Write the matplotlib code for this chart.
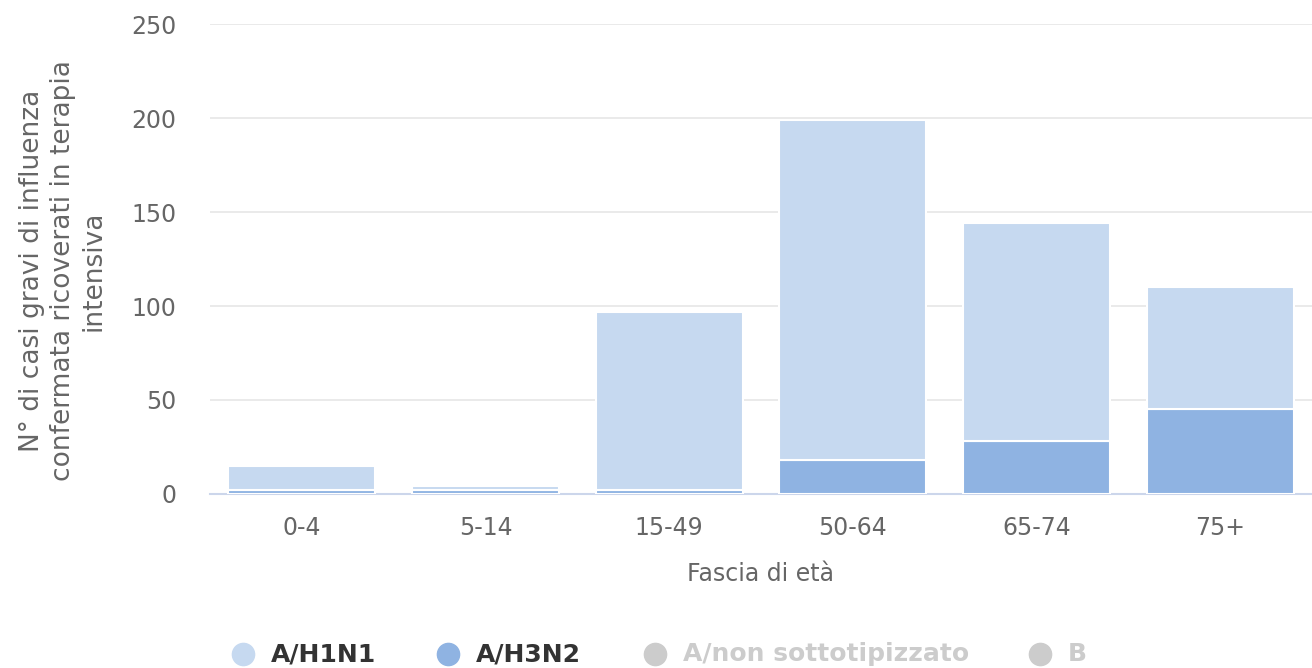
import matplotlib.pyplot as plt
import numpy as np

categories = ["0-4", "5-14", "15-49", "50-64", "65-74", "75+"]
h3n2 = [2, 2, 2, 18, 28, 45]
h1n1 = [13, 2, 95, 181, 116, 65]

c_h1n1 = "#c6d9f0"
c_h3n2 = "#8fb3e2"
text_col = "#666666"

W, H = 1312, 668
fig = plt.figure(figsize=(W / 100, H / 100), dpi=100)
ax = fig.add_axes([0.16, 0.2605, 0.84, 0.7035])

x = np.arange(len(categories))
ax.bar(x, h3n2, width=0.8, color=c_h3n2, edgecolor="white", linewidth=1.5, zorder=3)
ax.bar(x, h1n1, width=0.8, bottom=h3n2, color=c_h1n1, edgecolor="white", linewidth=1.5, zorder=3)

ax.set_xlim(-0.5, len(categories) - 0.5)
ax.set_ylim(0, 250)
ax.set_yticks([0, 50, 100, 150, 200, 250])
ax.yaxis.grid(True, color="#e6e6e6", linewidth=1.2, zorder=0)
ax.set_xticks(x)
ax.set_xticklabels(categories)
ax.tick_params(axis="both", length=0, labelsize=17, colors=text_col)
ax.tick_params(axis="x", pad=16)
ax.tick_params(axis="y", pad=24)
for s in ["top", "right", "left"]:
    ax.spines[s].set_visible(False)
ax.spines["bottom"].set_color("#ccd6eb")
ax.spines["bottom"].set_linewidth(1.5)

ax.set_xlabel("Fascia di età", fontsize=17, color=text_col, labelpad=16)
fig.text(0.048, 0.595, "N° di casi gravi di influenza\nconfermata ricoverati in terapia\nintensiva",
         rotation=90, ha="center", va="center", fontsize=19, color=text_col, linespacing=1.25)

# legend drawn by hand (Highcharts style, hidden series greyed out)
labels = ["A/H1N1", "A/H3N2", "A/non sottotipizzato", "B"]
marker_cols = [c_h1n1, c_h3n2, "#cccccc", "#cccccc"]
label_cols = ["#333333", "#333333", "#cccccc", "#cccccc"]
leg_x = [243, 448, 655, 1040]
leg_y = 1 - 654 / H
for px, lab, mc, tc in zip(leg_x, labels, marker_cols, label_cols):
    fig.add_artist(plt.Line2D([px / W], [leg_y], marker="o", markersize=16, color=mc,
                              linestyle="", transform=fig.transFigure))
    fig.text((px + 28) / W, leg_y, lab, ha="left", va="center", fontsize=18,
             fontweight="bold", color=tc)

fig.savefig("out.png", dpi=100)
